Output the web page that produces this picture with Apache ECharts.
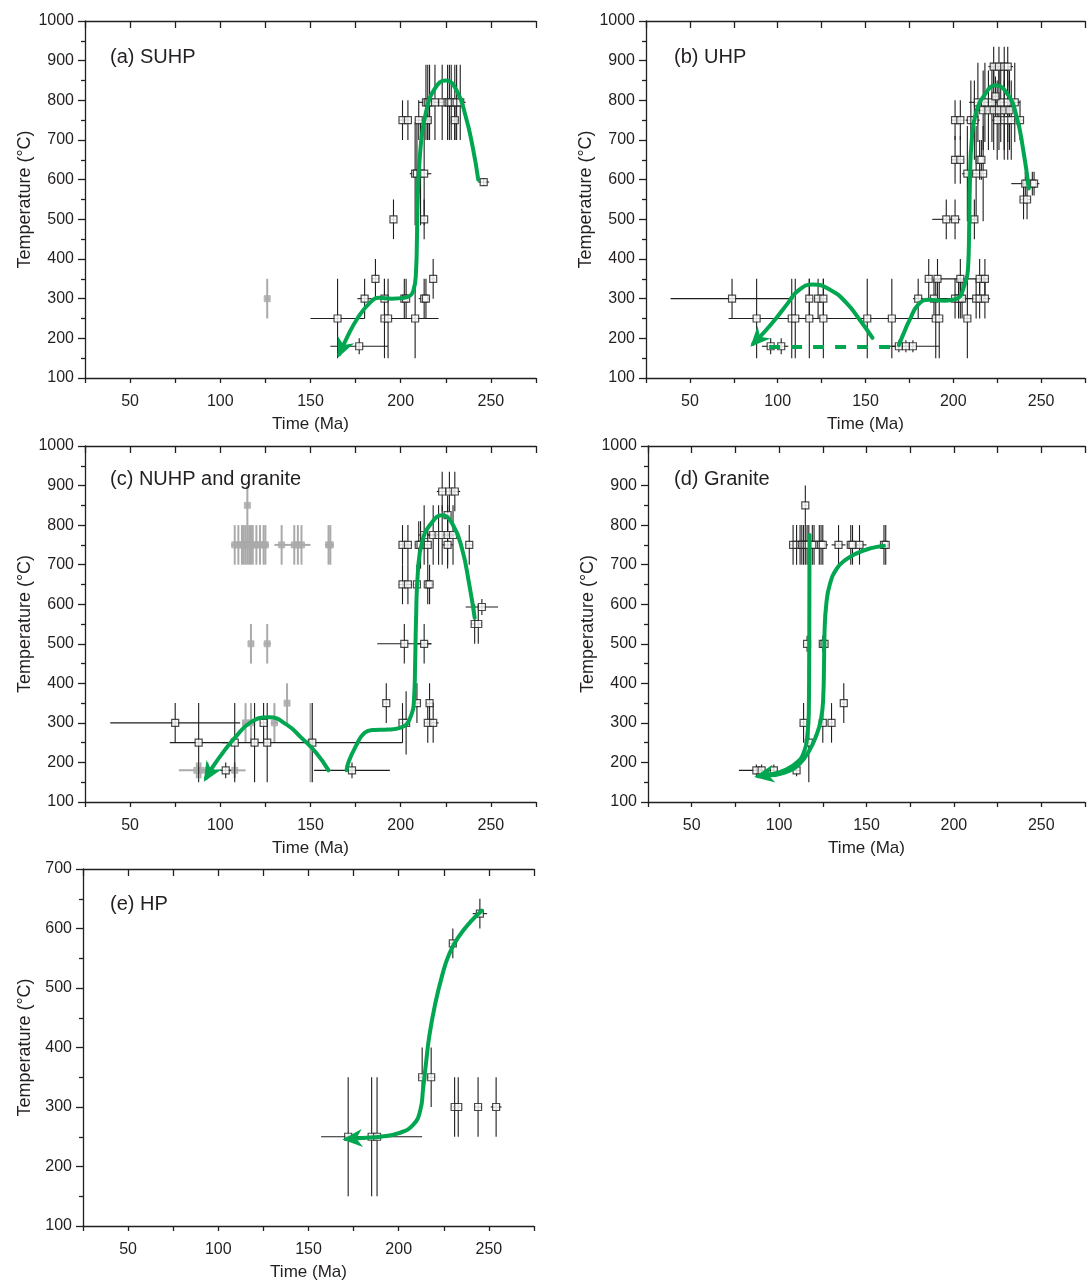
<!DOCTYPE html>
<html>
<head>
<meta charset="utf-8">
<script src="https://cdn.jsdelivr.net/npm/echarts/dist/echarts.min.js"></script>
<style>
  html, body { margin: 0; padding: 0; background: #fff; }
  #chart { width: 1088px; height: 1282px; }
</style>
</head>
<body>
<div id="chart"></div>
<script>
// Thermal histories (temperature vs. time) for five rock groups.
// Each observation: [time (Ma), temperature (°C), ± time error, ± temperature error]

const timeLabels = [50, 100, 150, 200, 250];

// (a) SUHP
const suhpObs = [
  [165, 250, 15, 100], [177, 180, 16, 20], [180, 300, 4, 50], [186, 350, 2, 50],
  [191, 250, 2, 100], [193, 250, 2, 100], [191, 300, 2, 50], [196, 500, 1, 50],
  [202, 300, 2, 50], [203, 300, 1, 50], [201, 750, 2, 50], [204, 750, 1, 50],
  [208, 250, 13, 100], [208, 615, 3, 130], [209, 615, 2, 130], [211, 615, 2, 130],
  [213, 615, 4, 130], [210, 750, 2, 50], [213, 500, 1, 50], [213, 300, 3, 50],
  [214, 300, 2, 50], [215, 750, 2, 50], [218, 350, 1, 50],
  [214, 795, 4, 95], [215, 795, 3, 95], [216, 795, 3, 95], [219, 795, 3, 95], [223, 795, 4, 95],
  [226, 795, 3, 95], [227, 795, 3, 95], [228, 795, 3, 95], [230, 795, 4, 95], [231, 795, 3, 95],
  [233, 795, 3, 95], [230, 750, 2, 50], [246, 594, 3, 10]
];
const suhpGranite = [[126, 300, 1, 50]];
const suhpTrack = [
  [243, 600], [240, 680], [236, 760], [231, 825], [225, 850], [219, 830], [214, 770],
  [211, 680], [209.5, 560], [209, 450], [208.5, 370], [207, 320], [202, 302], [195, 300],
  [188, 302], [183, 290], [176, 250], [170, 200], [166, 160]
];

// (b) UHP
const uhpObs = [
  [74, 300, 35, 50], [88, 250, 16, 100], [96, 180, 5, 20], [102, 180, 4, 20],
  [108, 250, 2, 100], [110, 250, 20, 100], [118, 250, 2, 100], [118, 300, 2, 50],
  [123, 300, 2, 50], [126, 300, 2, 50], [126, 250, 2, 100], [151, 250, 43, 100],
  [165, 250, 25, 100], [169, 180, 4, 15], [173, 180, 2, 15], [177, 180, 15, 15],
  [180, 300, 3, 50], [186, 350, 2, 50], [191, 350, 2, 50], [189, 300, 2, 50],
  [190, 250, 2, 100], [192, 250, 2, 100], [204, 350, 15, 50], [204, 300, 15, 50],
  [196, 500, 8, 50], [201, 500, 2, 50], [201, 300, 2, 50], [203, 300, 2, 50],
  [205, 300, 2, 50], [208, 250, 2, 100], [212, 500, 2, 50], [213, 300, 2, 50],
  [215, 300, 2, 50], [218, 300, 3, 50], [215, 350, 2, 50], [218, 350, 2, 50],
  [201, 750, 2, 50], [204, 750, 2, 50], [201, 650, 2, 60], [204, 650, 2, 60],
  [215, 650, 2, 50], [216, 650, 2, 50], [208, 615, 3, 120], [213, 615, 2, 120],
  [217, 615, 2, 120], [210, 750, 3, 100], [212, 750, 3, 100], [225, 750, 3, 100],
  [229, 750, 3, 100], [231, 750, 3, 100], [233, 750, 2, 100], [238, 750, 2, 50],
  [217, 775, 3, 100], [220, 775, 3, 100], [223, 775, 3, 100], [226, 775, 3, 100],
  [229, 775, 3, 100], [232, 775, 3, 100], [214, 795, 5, 100], [218, 795, 4, 100],
  [222, 795, 4, 100], [227, 795, 4, 100], [231, 795, 3, 100], [235, 795, 3, 100],
  [223, 885, 3, 50], [226, 885, 3, 50], [229, 885, 3, 50], [231, 885, 3, 50],
  [224, 810, 2, 50], [241, 590, 8, 30], [245, 590, 3, 30], [246, 590, 2, 30],
  [240, 550, 2, 50], [242, 550, 2, 50]
];
const uhpTrack = [
  [243, 578], [240, 670], [236, 760], [231, 815], [224, 838], [218, 815], [213, 770],
  [210.5, 700], [209.5, 600], [209, 470], [208.5, 385], [206, 330], [202, 300], [195, 295],
  [186, 297], [180, 285], [175, 245], [171, 205], [169, 183]
];
const uhpGap = [[164, 178], [93, 178]];
const uhpArch = [
  [154, 201], [147, 245], [139, 290], [130, 322], [120, 336], [111, 318], [106, 290],
  [99, 250], [92, 214], [86, 186]
];

// (c) NUHP and granite
const nuhpObs = [
  [75, 300, 36, 50], [88, 250, 16, 100], [103, 180, 3, 20], [108, 250, 2, 100],
  [119, 250, 2, 100], [126, 250, 2, 100], [124, 300, 2, 50], [151, 250, 50, 100],
  [173, 180, 21, 20], [192, 350, 1, 50], [201, 300, 2, 50], [203, 300, 2, 80],
  [202, 500, 15, 50], [213, 500, 4, 50], [209, 350, 2, 50], [216, 350, 2, 50],
  [215, 300, 2, 50], [218, 300, 3, 50],
  [201, 750, 2, 50], [204, 750, 2, 50], [210, 750, 2, 60], [211, 750, 2, 60],
  [215, 750, 2, 50], [226, 750, 3, 60], [238, 750, 2, 50],
  [201, 650, 2, 50], [204, 650, 2, 50], [209, 650, 2, 50], [215, 650, 2, 50], [216, 650, 2, 50],
  [213, 775, 3, 75], [218, 775, 3, 75], [221, 775, 3, 75], [223, 775, 3, 75],
  [226, 775, 3, 75], [229, 775, 3, 75],
  [223, 885, 3, 50], [227, 885, 3, 50], [230, 885, 3, 50], [226, 825, 2, 50],
  [245, 593, 9, 20], [241, 550, 2, 50], [243, 550, 2, 50]
];
const nuhpGranite = [
  [115, 850, 1, 50],
  [108, 750, 2, 50], [110, 750, 2, 50], [112, 750, 3, 50], [113, 750, 2, 50], [114, 750, 2, 50],
  [115, 750, 3, 50], [116, 750, 2, 50], [117, 750, 2, 50], [118, 750, 3, 50], [120, 750, 2, 50],
  [122, 750, 2, 50], [124, 750, 3, 50], [125, 750, 2, 50],
  [134, 750, 4, 50], [141, 750, 3, 50], [143, 750, 3, 50], [145, 750, 5, 50],
  [160, 750, 2, 50], [161, 750, 2, 50],
  [117, 500, 1, 50], [126, 500, 2, 50],
  [137, 350, 1, 50], [114, 300, 2, 50], [117, 300, 2, 50], [130, 300, 2, 50],
  [150, 250, 1, 100],
  [87, 180, 10, 20], [89, 180, 2, 20], [93, 180, 3, 20], [108, 180, 6, 20]
];
const nuhpTrack = [
  [241, 566], [238, 650], [234, 740], [229, 800], [223, 825], [217, 805], [212, 760],
  [209.5, 680], [208.5, 560], [208, 450], [207.5, 370], [205, 310], [200, 288], [193, 283],
  [185, 282], [180, 275], [175, 240], [171, 200], [170, 180]
];
const nuhpArch = [
  [160, 180], [153, 225], [145, 262], [137, 295], [127, 314], [117, 302], [108, 262],
  [101, 222], [96, 190], [92, 160]
];

// (d) Granite
const graniteObs = [
  [115, 850, 1, 50],
  [108, 750, 2, 50], [110, 750, 2, 50], [112, 750, 2, 50], [113, 750, 2, 50], [114, 750, 3, 50],
  [115, 750, 2, 50], [116, 750, 2, 50], [117, 750, 3, 50], [119, 750, 2, 50], [120, 750, 2, 50],
  [123, 750, 2, 50], [124, 750, 2, 50], [125, 750, 3, 50],
  [134, 750, 4, 50], [141, 750, 2, 50], [142, 750, 3, 50], [146, 750, 4, 50],
  [160, 750, 2, 50], [161, 750, 2, 50],
  [116, 500, 1, 20], [125, 500, 2, 20], [126, 500, 2, 20],
  [114, 300, 1, 50], [125, 300, 1, 50], [130, 300, 1, 50], [137, 350, 1, 50], [117, 250, 1, 100],
  [87, 180, 10, 15], [90, 180, 2, 15], [97, 180, 2, 15], [110, 180, 2, 15]
];
const graniteTrackA = [
  [117.4, 775], [117.3, 600], [117.2, 450], [117, 330], [116.2, 270], [114.5, 230],
  [110.5, 201], [103, 180], [95, 170], [88, 165]
];
const graniteTrackB = [
  [160, 748], [152, 741], [144, 728], [138, 712], [133, 690], [129, 650], [127, 600],
  [126, 530], [125.7, 450], [125.3, 370], [124, 310], [121, 265], [117, 228], [112, 198],
  [105, 177], [97, 168], [90, 166]
];

// (e) HP
const hpObs = [
  [172, 250, 2, 100], [185, 250, 28, 100], [188, 250, 2, 100], [213, 350, 2, 50],
  [218, 350, 2, 50], [230, 575, 2, 25], [245, 625, 4, 25], [231, 300, 1, 50],
  [233, 300, 1, 50], [244, 300, 2, 50], [254, 300, 3, 50]
];
const hpTrack = [
  [246, 630], [240, 612], [233, 585], [228, 557], [224, 520], [220, 470], [217, 420],
  [215, 370], [213.5, 330], [212, 295], [208, 270], [200, 256], [190, 250], [180, 248], [171, 246]
];

// ---- styling ----
const FONT = '"Liberation Sans", Arial, Helvetica, sans-serif';
const INK = '#231f20';
const BAR = '#1e1e1e';
const GREEN = '#00a650';
const GRAY = '#aaaaaa';

const panels = [
  { grid: { left: 85, top: 21, width: 451, height: 357 }, yMax: 1000, title: '(a) SUHP', tpos: [110, 47],
    obs: suhpObs, granite: suhpGranite, tracks: [suhpTrack], arrows: [suhpTrack], dashed: [] },
  { grid: { left: 646, top: 21, width: 450, height: 357 }, yMax: 1000, title: '(b) UHP', tpos: [674, 47],
    obs: uhpObs, granite: [], tracks: [uhpTrack, uhpArch], arrows: [uhpArch], dashed: [uhpGap] },
  { grid: { left: 85, top: 446, width: 451, height: 356 }, yMax: 1000, title: '(c) NUHP and granite', tpos: [110, 469],
    obs: nuhpObs, granite: nuhpGranite, tracks: [nuhpTrack, nuhpArch], arrows: [nuhpArch], dashed: [] },
  { grid: { left: 648, top: 446, width: 451, height: 356 }, yMax: 1000, title: '(d) Granite', tpos: [674, 469],
    obs: graniteObs, granite: [], tracks: [graniteTrackB, graniteTrackA], arrows: [graniteTrackA], dashed: [] },
  { grid: { left: 83, top: 869, width: 451, height: 358 }, yMax: 700, title: '(e) HP', tpos: [110, 894],
    obs: hpObs, granite: [], tracks: [hpTrack], arrows: [hpTrack], dashed: [] }
];

function errorBars(color, width) {
  return function (params, api) {
    const t = api.value(0), T = api.value(1), dt = api.value(2), dT = api.value(3);
    const l = api.coord([t - dt, T]), r = api.coord([t + dt, T]);
    const lo = api.coord([t, T - dT]), hi = api.coord([t, T + dT]);
    const style = { stroke: color, lineWidth: width };
    return {
      type: 'group',
      children: [
        { type: 'line', shape: { x1: l[0], y1: l[1], x2: r[0], y2: r[1] }, style },
        { type: 'line', shape: { x1: lo[0], y1: lo[1], x2: hi[0], y2: hi[1] }, style }
      ]
    };
  };
}

function arrowHead(params, api) {
  const a = api.coord([api.value(0), api.value(1)]);
  const b = api.coord([api.value(2), api.value(3)]);
  const ang = Math.atan2(b[1] - a[1], b[0] - a[0]);
  const c = Math.cos(ang), s = Math.sin(ang);
  const pt = (back, side) => [b[0] - back * c - side * s, b[1] - back * s + side * c];
  return {
    type: 'polygon',
    shape: { points: [pt(-4, 0), pt(16, 9), pt(10, 0), pt(16, -9)] },
    style: { fill: GREEN }
  };
}

const labelStyle = { color: INK, fontFamily: FONT, fontSize: 16 };
const lineStyle = { color: INK, width: 1.3 };

const grid = [], xAxis = [], yAxis = [], series = [], title = [];

panels.forEach((p, i) => {
  grid.push(Object.assign({ containLabel: false }, p.grid));
  title.push({
    text: p.title, left: p.tpos[0], top: p.tpos[1], padding: 0,
    textStyle: { fontFamily: FONT, fontSize: 20, fontWeight: 'normal', color: INK }
  });
  xAxis[i] = {
    type: 'value', gridIndex: i, position: 'bottom', min: 25, max: 275, interval: 25,
    name: 'Time (Ma)', nameLocation: 'middle', nameGap: 38,
    nameTextStyle: { fontFamily: FONT, fontSize: 17, color: INK },
    axisLine: { show: true, onZero: false, lineStyle },
    axisTick: { show: true, inside: false, length: 5, lineStyle },
    axisLabel: Object.assign({ margin: 16, formatter: v => (timeLabels.includes(v) ? String(v) : '') }, labelStyle),
    splitLine: { show: false }
  };
  xAxis[i + 5] = {
    type: 'value', gridIndex: i, position: 'top', min: 25, max: 275, interval: 25,
    axisLine: { show: true, onZero: false, lineStyle },
    axisTick: { show: true, inside: true, length: 7, lineStyle },
    axisLabel: { show: false },
    splitLine: { show: false }
  };
  yAxis[i] = {
    type: 'value', gridIndex: i, min: 100, max: p.yMax, interval: 100,
    name: 'Temperature (°C)', nameLocation: 'middle', nameGap: 49, nameRotate: 90,
    nameTextStyle: { fontFamily: FONT, fontSize: 18, color: INK },
    axisLine: { show: true, onZero: false, lineStyle },
    axisTick: { show: true, inside: false, length: 7, lineStyle },
    minorTick: { show: true, splitNumber: 2, length: 4, lineStyle },
    axisLabel: Object.assign({ margin: 11, formatter: v => String(v) }, labelStyle),
    splitLine: { show: false }, minorSplitLine: { show: false }
  };

  const ax = { xAxisIndex: i, yAxisIndex: i };
  if (p.granite.length) {
    series.push(Object.assign({ type: 'custom', renderItem: errorBars(GRAY, 2), data: p.granite, z: 2, silent: true }, ax));
    series.push(Object.assign({ type: 'scatter', symbol: 'rect', symbolSize: 6, data: p.granite.map(d => [d[0], d[1]]),
      itemStyle: { color: GRAY, borderColor: GRAY, borderWidth: 1 }, z: 3, silent: true }, ax));
  }
  series.push(Object.assign({ type: 'custom', renderItem: errorBars(BAR, 1.1), data: p.obs, z: 4, silent: true }, ax));
  series.push(Object.assign({ type: 'scatter', symbol: 'rect', symbolSize: 7, data: p.obs.map(d => [d[0], d[1]]),
    itemStyle: { color: '#ffffff', borderColor: BAR, borderWidth: 1.2 }, z: 5, silent: true }, ax));
  p.tracks.forEach(tr => {
    series.push(Object.assign({ type: 'line', data: tr, smooth: 0.5, showSymbol: false, symbol: 'none',
      lineStyle: { color: GREEN, width: 4, cap: 'round' }, z: 6, silent: true }, ax));
  });
  p.dashed.forEach(tr => {
    series.push(Object.assign({ type: 'line', data: tr, showSymbol: false, symbol: 'none',
      lineStyle: { color: GREEN, width: 4, type: [11, 11] }, z: 6, silent: true }, ax));
  });
  p.arrows.forEach(tr => {
    const n = tr.length;
    series.push(Object.assign({ type: 'custom', renderItem: arrowHead,
      data: [[tr[n - 2][0], tr[n - 2][1], tr[n - 1][0], tr[n - 1][1]]], z: 7, silent: true }, ax));
  });
});

const chart = echarts.init(document.getElementById('chart'), null, { renderer: 'canvas' });
chart.setOption({
  backgroundColor: '#ffffff',
  animation: false,
  title, grid, xAxis, yAxis, series
});
</script>
</body>
</html>
